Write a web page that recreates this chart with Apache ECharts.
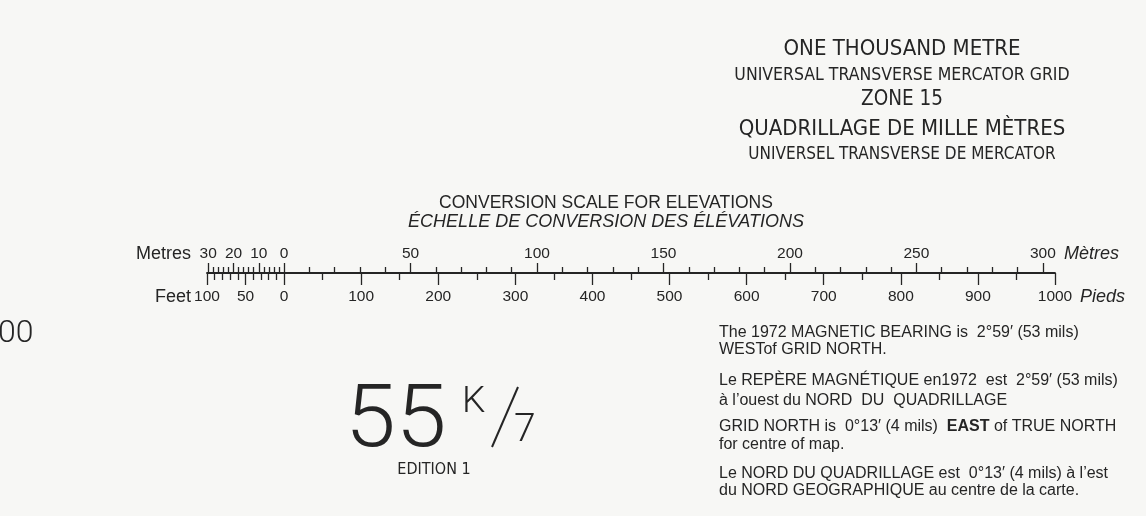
<!DOCTYPE html>
<html>
<head>
<meta charset="utf-8">
<script src="https://cdn.jsdelivr.net/npm/echarts@6/dist/echarts.min.js"></script>
<style>
  html, body { margin: 0; padding: 0; background: #f7f7f5; }
  #chart { width: 1146px; height: 516px; }
</style>
</head>
<body>
<div id="chart"></div>
<script>
// conversion scale: feet along the bottom, metres along the top
const FEET_PER_METRE = 3.28084
const feetMin = -100
const feetMax = 1000

// feet side (negative = the subdivided part left of zero)
const feetMajorTicks = [-100, -50, 0, 100, 200, 300, 400, 500, 600, 700, 800, 900, 1000]
const feetMinorTicks = [-90, -80, -70, -60, -40, -30, -20, -10,
  50, 150, 250, 350, 450, 550, 650, 750, 850, 950]
const feetLabels = [-100, -50, 0, 100, 200, 300, 400, 500, 600, 700, 800, 900, 1000]

// metres side
const metreMajorTicks = [-30, -20, -10, 0, 50, 100, 150, 200, 250, 300]
const metreMinorTicks = [-28, -26, -24, -22, -18, -16, -14, -12, -8, -6, -4, -2,
  10, 20, 30, 40, 60, 70, 80, 90, 110, 120, 130, 140, 160, 170, 180, 190,
  210, 220, 230, 240, 260, 270, 280, 290]
const metreLabels = [-30, -20, -10, 0, 50, 100, 150, 200, 250, 300]

const headerLines = [
  { text: 'ONE THOUSAND METRE', size: 22, y: 49 },
  { text: 'UNIVERSAL TRANSVERSE MERCATOR GRID', size: 17.5, y: 75 },
  { text: 'ZONE 15', size: 20.5, y: 100 },
  { text: 'QUADRILLAGE DE MILLE MÈTRES', size: 22, y: 129 },
  { text: 'UNIVERSEL TRANSVERSE DE MERCATOR', size: 17, y: 155 }
]

const noteLines = [
  { text: 'The 1972 MAGNETIC BEARING is  2°59′ (53 mils)', y: 333 },
  { text: 'WESTof GRID NORTH.', y: 350 },
  { text: 'Le REPÈRE MAGNÉTIQUE en1972  est  2°59′ (53 mils)', y: 381 },
  { text: 'à l’ouest du NORD  DU  QUADRILLAGE', y: 401 },
  { text: 'GRID NORTH is  0°13′ (4 mils)  {b|EAST} of TRUE NORTH', y: 427 },
  { text: 'for centre of map.', y: 445 },
  { text: 'Le NORD DU QUADRILLAGE est  0°13′ (4 mils) à l’est', y: 474 },
  { text: 'du NORD GEOGRAPHIQUE au centre de la carte.', y: 491 }
]

const INK = '#252525'
const SANS = '"Liberation Sans", Arial, sans-serif'
const COND = '"DejaVu Sans Condensed", "Liberation Sans Narrow", sans-serif'
const LIGHT = 'Roboto, "Open Sans", sans-serif'

const myChart = echarts.init(document.getElementById('chart'))

const lineStyle = { color: INK, width: 1.3 }

function baseAxis(position, min, max) {
  return {
    type: 'value',
    gridIndex: 0,
    position: position,
    min: min,
    max: max,
    splitLine: { show: false },
    axisLine: { show: false, lineStyle: { color: INK, width: 1.8 } },
    axisTick: { show: true, lineStyle: lineStyle },
    axisLabel: { show: false }
  }
}

const xAxes = []

// feet, long ticks + labels + the main line
const feetMain = baseAxis('bottom', feetMin, feetMax)
feetMain.axisLine.show = true
feetMain.axisTick.customValues = feetMajorTicks
feetMain.axisTick.length = 12
feetMain.axisLabel = {
  show: true, customValues: feetLabels, margin: 16,
  color: INK, fontSize: 15.5, fontFamily: SANS,
  formatter: (v) => String(Math.abs(v))
}
xAxes.push(feetMain)

// feet, short ticks
const feetSmall = baseAxis('bottom', feetMin, feetMax)
feetSmall.axisTick.customValues = feetMinorTicks
feetSmall.axisTick.length = 7
xAxes.push(feetSmall)

// metres, long ticks + labels
const metreMain = baseAxis('top', feetMin / FEET_PER_METRE, feetMax / FEET_PER_METRE)
metreMain.axisTick.customValues = metreMajorTicks
metreMain.axisTick.length = 10
metreMain.axisLabel = {
  show: true, customValues: metreLabels, margin: 11,
  color: INK, fontSize: 15.5, fontFamily: SANS,
  formatter: (v) => String(Math.abs(v))
}
xAxes.push(metreMain)

// metres, short ticks
const metreSmall = baseAxis('top', feetMin / FEET_PER_METRE, feetMax / FEET_PER_METRE)
metreSmall.axisTick.customValues = metreMinorTicks
metreSmall.axisTick.length = 6
xAxes.push(metreSmall)

const graphics = []

// unit names at both ends of the scale
const unitNames = [
  { text: 'Metres', x: 191, y: 254, align: 'right', style: 'normal' },
  { text: 'Feet', x: 191, y: 297, align: 'right', style: 'normal' },
  { text: 'Mètres', x: 1064, y: 254, align: 'left', style: 'italic' },
  { text: 'Pieds', x: 1080, y: 297, align: 'left', style: 'italic' }
]
unitNames.forEach((u) => {
  graphics.push({
    type: 'text', x: u.x, y: u.y,
    style: {
      text: u.text, fill: INK, fontSize: 18, fontStyle: u.style, fontFamily: SANS,
      textAlign: u.align, textVerticalAlign: 'middle'
    }
  })
})

headerLines.forEach((l) => {
  graphics.push({
    type: 'text', x: 902, y: l.y,
    style: {
      text: l.text, fill: INK, font: l.size + 'px ' + COND,
      textAlign: 'center', textVerticalAlign: 'middle'
    }
  })
})

noteLines.forEach((l) => {
  graphics.push({
    type: 'text', x: 719, y: l.y,
    style: {
      text: l.text, fill: INK, fontSize: 16, fontFamily: SANS,
      textAlign: 'left', textVerticalAlign: 'middle',
      rich: { b: { fontSize: 16, fontFamily: SANS, fontWeight: 'bold', fill: INK } }
    }
  })
})

// sheet number 55 K/7
graphics.push(
  { type: 'text', x: 345, y: 424, scaleX: 1.04, style: { text: '55', fill: INK, font: '300 88px ' + LIGHT, textAlign: 'left', textVerticalAlign: 'middle' } },
  { type: 'text', x: 462, y: 403, style: { text: 'K', fill: INK, font: '300 37px ' + LIGHT, textAlign: 'left', textVerticalAlign: 'middle' } },
  { type: 'line', shape: { x1: 518, y1: 387, x2: 492, y2: 447 }, style: { stroke: INK, lineWidth: 2 } },
  { type: 'text', x: 514, y: 431, style: { text: '7', fill: INK, font: '300 39px ' + LIGHT, textAlign: 'left', textVerticalAlign: 'middle' } },
  { type: 'text', x: 434, y: 470, style: { text: 'EDITION 1', fill: INK, font: '16px ' + COND, textAlign: 'center', textVerticalAlign: 'middle' } },
  { type: 'text', x: -2, y: 334, style: { text: '00', fill: INK, font: '300 32px ' + LIGHT, textAlign: 'left', textVerticalAlign: 'middle' } }
)

const option = {
  backgroundColor: '#f7f7f5',
  animation: false,
  title: {
    text: 'CONVERSION SCALE FOR ELEVATIONS',
    subtext: 'ÉCHELLE DE CONVERSION DES ÉLÉVATIONS',
    left: 601,
    top: 189,
    textAlign: 'center',
    itemGap: 1,
    textStyle: { color: INK, fontSize: 17.5, fontWeight: 'normal', fontFamily: SANS },
    subtextStyle: { color: INK, fontSize: 18, fontStyle: 'italic', fontFamily: SANS }
  },
  grid: { left: 207, width: 848, top: 273, height: 0 },
  xAxis: xAxes,
  yAxis: { type: 'value', show: false },
  series: [],
  graphic: graphics
}

myChart.setOption(option)
</script>
</body>
</html>
